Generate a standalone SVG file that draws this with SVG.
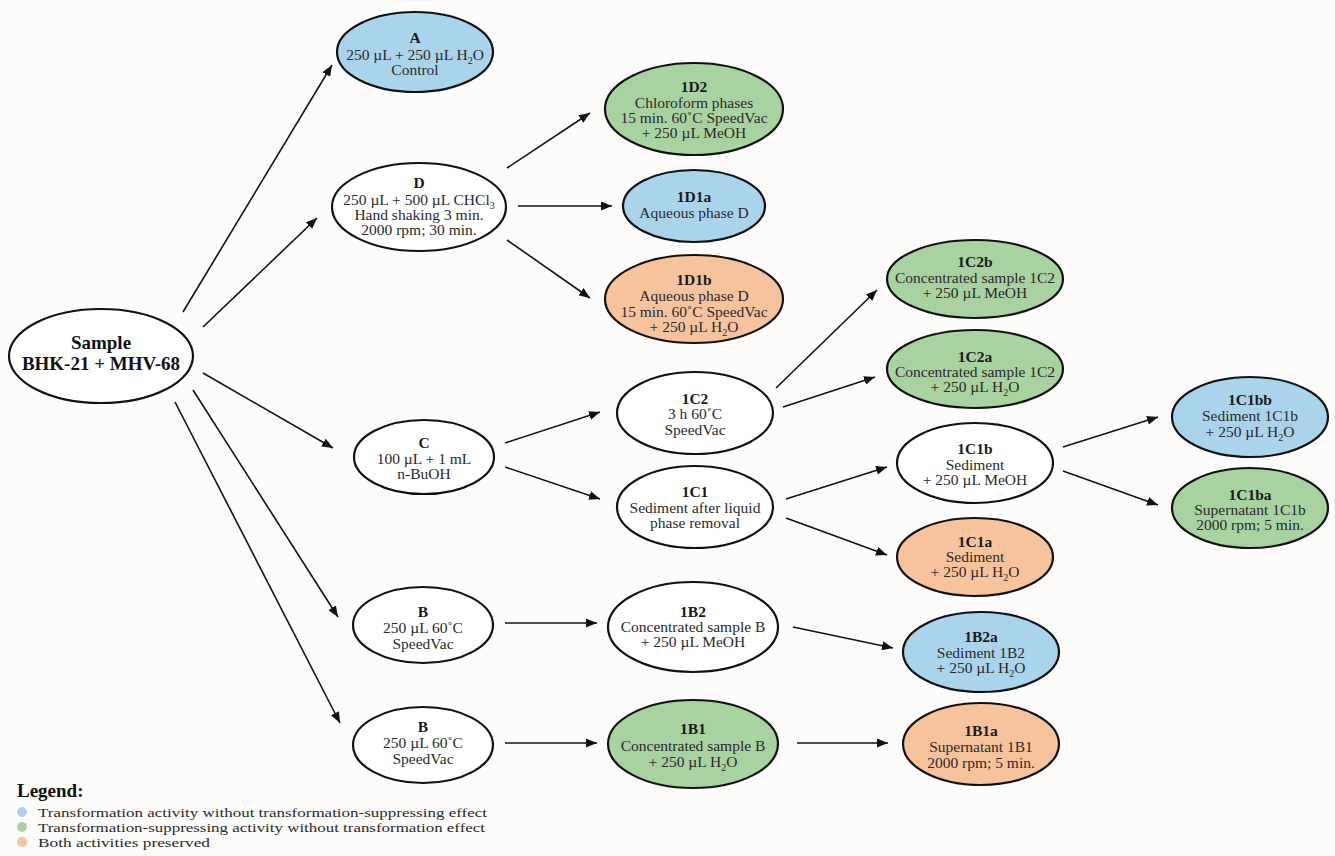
<svg xmlns="http://www.w3.org/2000/svg" width="1335" height="856" viewBox="0 0 1335 856">
<style>
.n{stroke:#111;stroke-width:2.2}
.w{fill:#ffffff}
.b{fill:#a9d4ec}
.g{fill:#a8d2a0}
.o{fill:#f7c39d}
text{font-family:"Liberation Serif","Times New Roman",serif;font-size:15.5px;fill:#2a2a2a;text-anchor:middle}
.t{font-weight:bold;fill:#1a1a1a}
.big{font-size:19px;font-weight:bold;fill:#111}
.lg{text-anchor:start;font-size:13.5px}
.c line{stroke:#111;stroke-width:1.6;marker-end:url(#ah)}
</style>
<defs>
<marker id="ah" markerUnits="userSpaceOnUse" markerWidth="12" markerHeight="9" refX="11" refY="4.5" orient="auto">
<path d="M0,0 L11,4.5 L0,9 z" fill="#111"/>
</marker>
</defs>
<rect width="1335" height="856" fill="#fdfcfa"/>
<g class="c" id="connectors">
<line x1="183" y1="312" x2="332" y2="65"/>
<line x1="203" y1="327" x2="317" y2="218"/>
<line x1="203" y1="373" x2="333" y2="448"/>
<line x1="193" y1="390" x2="338" y2="617"/>
<line x1="175" y1="402" x2="340" y2="723"/>
<line x1="507" y1="168" x2="590" y2="113"/>
<line x1="518" y1="206" x2="612" y2="206"/>
<line x1="507" y1="240" x2="590" y2="298"/>
<line x1="505" y1="443" x2="600" y2="412"/>
<line x1="505" y1="467" x2="600" y2="499"/>
<line x1="776" y1="388" x2="877" y2="290"/>
<line x1="783" y1="407" x2="875" y2="377"/>
<line x1="786" y1="499" x2="887" y2="467"/>
<line x1="786" y1="518" x2="887" y2="555"/>
<line x1="1063" y1="447" x2="1158" y2="417"/>
<line x1="1063" y1="471" x2="1158" y2="505"/>
<line x1="505" y1="623" x2="597" y2="623"/>
<line x1="793" y1="627" x2="893" y2="648"/>
<line x1="505" y1="743" x2="597" y2="743"/>
<line x1="797" y1="743" x2="888" y2="743"/>
</g>
<g id="sample">
<ellipse class="n w" cx="101" cy="356" rx="92" ry="47"/>
<text class="big" x="101" y="349">Sample</text>
<text class="big" x="101" y="370">BHK-21 + MHV-68</text>
</g>
<g id="A">
<ellipse class="n b" cx="415" cy="52" rx="78" ry="40"/>
<text class="t" x="415" y="43">A</text>
<text x="415" y="60">250 µL + 250 µL H<tspan font-size="10" dy="4">2</tspan><tspan dy="-4">O</tspan></text>
<text x="415" y="75">Control</text>
</g>
<g id="D">
<ellipse class="n w" cx="419" cy="207" rx="87" ry="44"/>
<text class="t" x="419" y="188">D</text>
<text x="419" y="205">250 µL + 500 µL CHCl<tspan font-size="10" dy="4">3</tspan></text>
<text x="419" y="220">Hand shaking 3 min.</text>
<text x="419" y="235">2000 rpm; 30 min.</text>
</g>
<g id="n1D2">
<ellipse class="n g" cx="694" cy="109" rx="89" ry="46"/>
<text class="t" x="694" y="92">1D2</text>
<text x="694" y="108">Chloroform phases</text>
<text x="694" y="123">15 min. 60˚C SpeedVac</text>
<text x="694" y="138">+ 250 µL MeOH</text>
</g>
<g id="n1D1a">
<ellipse class="n b" cx="694" cy="206" rx="71" ry="36"/>
<text class="t" x="694" y="202">1D1a</text>
<text x="694" y="218">Aqueous phase D</text>
</g>
<g id="n1D1b">
<ellipse class="n o" cx="694" cy="299" rx="89" ry="44"/>
<text class="t" x="694" y="285">1D1b</text>
<text x="694" y="301">Aqueous phase D</text>
<text x="694" y="317">15 min. 60˚C SpeedVac</text>
<text x="694" y="332">+ 250 µL H<tspan font-size="10" dy="4">2</tspan><tspan dy="-4">O</tspan></text>
</g>
<g id="C">
<ellipse class="n w" cx="424" cy="457" rx="70" ry="37"/>
<text class="t" x="424" y="448">C</text>
<text x="424" y="464">100 µL + 1 mL</text>
<text x="424" y="479">n-BuOH</text>
</g>
<g id="n1C2">
<ellipse class="n w" cx="695" cy="413" rx="78" ry="41"/>
<text class="t" x="695" y="404">1C2</text>
<text x="695" y="419">3 h 60˚C</text>
<text x="695" y="435">SpeedVac</text>
</g>
<g id="n1C1">
<ellipse class="n w" cx="695" cy="507" rx="78" ry="41"/>
<text class="t" x="695" y="497">1C1</text>
<text x="695" y="513">Sediment after liquid</text>
<text x="695" y="528">phase removal</text>
</g>
<g id="n1C2b">
<ellipse class="n g" cx="975" cy="279" rx="88" ry="39"/>
<text class="t" x="975" y="267">1C2b</text>
<text x="975" y="283">Concentrated sample 1C2</text>
<text x="975" y="298">+ 250 µL MeOH</text>
</g>
<g id="n1C2a">
<ellipse class="n g" cx="975" cy="369" rx="88" ry="39"/>
<text class="t" x="975" y="362">1C2a</text>
<text x="975" y="377">Concentrated sample 1C2</text>
<text x="975" y="392">+ 250 µL H<tspan font-size="10" dy="4">2</tspan><tspan dy="-4">O</tspan></text>
</g>
<g id="n1C1b">
<ellipse class="n w" cx="975" cy="463" rx="78" ry="40"/>
<text class="t" x="975" y="454">1C1b</text>
<text x="975" y="470">Sediment</text>
<text x="975" y="485">+ 250 µL MeOH</text>
</g>
<g id="n1C1a">
<ellipse class="n o" cx="975" cy="557" rx="78" ry="39"/>
<text class="t" x="975" y="547">1C1a</text>
<text x="975" y="562">Sediment</text>
<text x="975" y="577">+ 250 µL H<tspan font-size="10" dy="4">2</tspan><tspan dy="-4">O</tspan></text>
</g>
<g id="n1C1bb">
<ellipse class="n b" cx="1250" cy="417" rx="78" ry="40"/>
<text class="t" x="1250" y="405">1C1bb</text>
<text x="1250" y="421">Sediment 1C1b</text>
<text x="1250" y="437">+ 250 µL H<tspan font-size="10" dy="4">2</tspan><tspan dy="-4">O</tspan></text>
</g>
<g id="n1C1ba">
<ellipse class="n g" cx="1250" cy="508" rx="78" ry="40"/>
<text class="t" x="1250" y="500">1C1ba</text>
<text x="1250" y="515">Supernatant 1C1b</text>
<text x="1250" y="530">2000 rpm; 5  min.</text>
</g>
<g id="B1">
<ellipse class="n w" cx="423" cy="625" rx="70" ry="38"/>
<text class="t" x="423" y="617">B</text>
<text x="423" y="633">250 µL 60˚C</text>
<text x="423" y="649">SpeedVac</text>
</g>
<g id="B2">
<ellipse class="n w" cx="423" cy="745" rx="70" ry="38"/>
<text class="t" x="423" y="732">B</text>
<text x="423" y="748">250 µL 60˚C</text>
<text x="423" y="764">SpeedVac</text>
</g>
<g id="n1B2">
<ellipse class="n w" cx="693" cy="627" rx="85" ry="45"/>
<text class="t" x="693" y="617">1B2</text>
<text x="693" y="632">Concentrated sample B</text>
<text x="693" y="647">+ 250 µL MeOH</text>
</g>
<g id="n1B1">
<ellipse class="n g" cx="693" cy="744" rx="85" ry="44"/>
<text class="t" x="693" y="734">1B1</text>
<text x="693" y="751">Concentrated sample B</text>
<text x="693" y="767">+ 250 µL H<tspan font-size="10" dy="4">2</tspan><tspan dy="-4">O</tspan></text>
</g>
<g id="n1B2a">
<ellipse class="n b" cx="981" cy="652" rx="78" ry="40"/>
<text class="t" x="981" y="642">1B2a</text>
<text x="981" y="658">Sediment 1B2</text>
<text x="981" y="673">+ 250 µL H<tspan font-size="10" dy="4">2</tspan><tspan dy="-4">O</tspan></text>
</g>
<g id="n1B1a">
<ellipse class="n o" cx="981" cy="744" rx="78" ry="41"/>
<text class="t" x="981" y="736">1B1a</text>
<text x="981" y="752">Supernatant 1B1</text>
<text x="981" y="768">2000 rpm; 5  min.</text>
</g>
<g id="legend">
<text class="big" x="17" y="797" style="text-anchor:start">Legend:</text>
<circle cx="22" cy="812" r="5" fill="#a9d4ec"/>
<circle cx="22" cy="827" r="5" fill="#a8d2a0"/>
<circle cx="22" cy="842" r="5" fill="#f7c39d"/>
<text class="lg" x="38" y="817" textLength="449" lengthAdjust="spacingAndGlyphs">Transformation activity without transformation-suppressing effect</text>
<text class="lg" x="38" y="832" textLength="447" lengthAdjust="spacingAndGlyphs">Transformation-suppressing activity without transformation effect</text>
<text class="lg" x="38" y="847" textLength="172" lengthAdjust="spacingAndGlyphs">Both activities preserved</text>
</g>
</svg>
